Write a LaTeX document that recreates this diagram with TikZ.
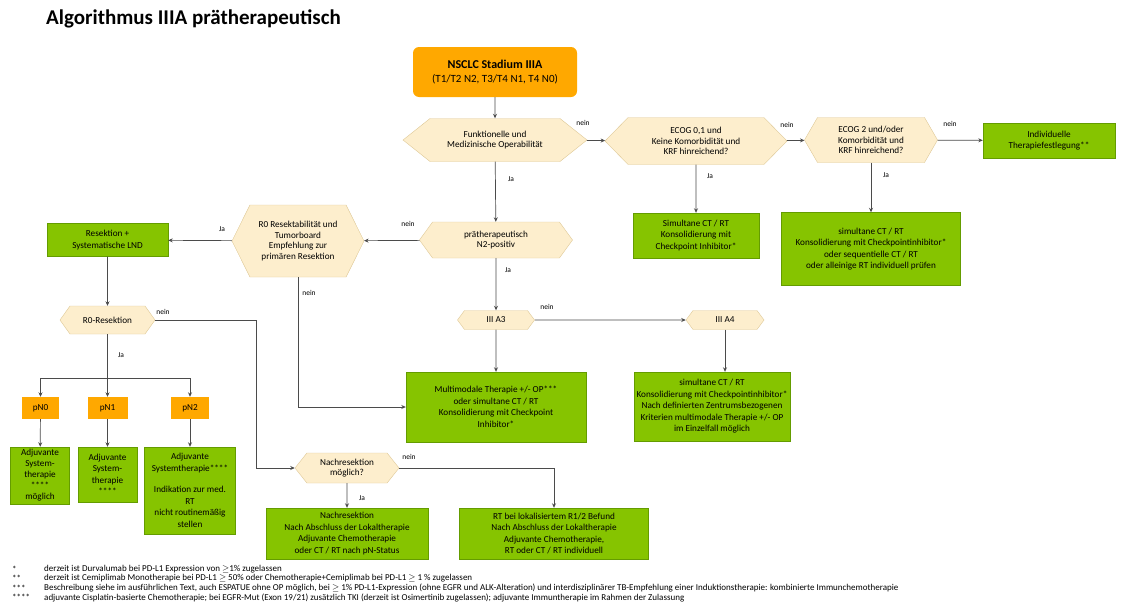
\documentclass[tikz,border=0pt]{standalone}
\usepackage{fontspec}
\setmainfont{Carlito}
\usetikzlibrary{arrows.meta,shapes.symbols}

\definecolor{startorange}{RGB}{255,168,0}
\definecolor{boxgreen}{RGB}{134,196,0}
\definecolor{boxgreenline}{RGB}{100,156,0}
\definecolor{hexfill}{RGB}{253,238,205}
\definecolor{hexline}{RGB}{222,200,150}
\definecolor{lineclr}{RGB}{75,75,75}

\tikzset{
  hexq/.style={signal, signal to=east and west, draw=hexline, fill=hexfill,
    inner sep=0pt, align=center, font=\fontsize{9.2}{10.8}\selectfont},
  greenbox/.style={rectangle, draw=boxgreenline, fill=boxgreen, inner sep=0pt,
    align=center, font=\fontsize{9.2}{11.5}\selectfont},
  orangebox/.style={rectangle, fill=startorange, inner sep=0pt, align=center,
    font=\fontsize{9.2}{11}\selectfont},
  conn/.style={draw=lineclr, line width=0.7pt},
  lbl/.style={font=\fontsize{7.5}{9}\selectfont, inner sep=0pt},
  fnote/.style={font=\fontsize{9}{10}\selectfont, inner sep=0pt, anchor=west}
}

\begin{document}
\begin{tikzpicture}[x=1pt,y=-1pt,>={Stealth[length=4.5pt,width=4pt]}]
  \useasboundingbox (0,0) rectangle (1122,608);

  % --- title -----------------------------------------------------
  \node[anchor=west, inner sep=0pt, font=\fontsize{21}{24}\selectfont\bfseries]
    (title) at (46,19) {Algorithmus IIIA prätherapeutisch};

  % --- top row ---------------------------------------------------
  \node[orangebox, rounded corners=6pt, minimum width=164pt, minimum height=50pt,
        font=\fontsize{11}{13.5}\selectfont] (start) at (495,72)
    {{\fontsize{12}{13.5}\selectfont\bfseries NSCLC Stadium IIIA}\\(T1/T2 N2, T3/T4 N1, T4 N0)};

  \node[hexq, minimum width=184pt, minimum height=43pt, signal pointer angle=77]
    (funk) at (495,140) {Funktionelle und\\Medizinische Operabilität};
  \node[hexq, minimum width=182pt, minimum height=47pt, signal pointer angle=91]
    (ecog01) at (696,141) {ECOG 0,1 und\\Keine Komorbidität und\\KRF hinreichend?};
  \node[hexq, minimum width=133pt, minimum height=45pt, signal pointer angle=120]
    (ecog2) at (871,140) {ECOG 2 und/oder\\Komorbidität und\\KRF hinreichend?};
  \node[greenbox, minimum width=132pt, minimum height=35pt]
    (indiv) at (1049,140.5) {Individuelle\\Therapiefestlegung**};

  \node[greenbox, minimum width=126pt, minimum height=45pt]
    (sim1) at (696,235.5) {Simultane CT / RT\\Konsolidierung mit\\Checkpoint Inhibitor*};
  \node[greenbox, minimum width=179pt, minimum height=73pt]
    (sim2) at (871,249) {simultane CT / RT\\Konsolidierung mit Checkpointinhibitor*\\oder sequentielle CT / RT\\oder alleinige RT individuell prüfen};

  % --- middle ----------------------------------------------------
  \node[hexq, minimum width=153pt, minimum height=36pt, signal pointer angle=108]
    (n2q) at (496,240) {prätherapeutisch\\N2-positiv};
  \node[hexq, minimum width=132pt, minimum height=72pt, signal pointer angle=127]
    (r0q) at (298,241) {R0 Resektabilität und\\Tumorboard\\Empfehlung zur\\primären Resektion};
  \node[greenbox, minimum width=121pt, minimum height=33pt]
    (reslnd) at (107.5,240) {Resektion +\\Systematische LND};

  \node[hexq, minimum width=77pt, minimum height=19pt, signal pointer angle=107]
    (a3) at (496,320) {III A3};
  \node[hexq, minimum width=78pt, minimum height=19pt, signal pointer angle=107]
    (a4) at (725,320) {III A4};

  \node[greenbox, minimum width=180pt, minimum height=70pt]
    (multi) at (496,407) {Multimodale Therapie +/- OP***\\oder simultane CT / RT\\Konsolidierung mit Checkpoint\\Inhibitor*};
  \node[greenbox, minimum width=156pt, minimum height=69pt]
    (a4box) at (712,406.5) {simultane CT / RT\\Konsolidierung mit Checkpointinhibitor*\\Nach definierten Zentrumsbezogenen\\Kriterien multimodale Therapie +/- OP\\im Einzelfall möglich};

  % --- left branch: after resection ------------------------------
  \node[hexq, minimum width=95pt, minimum height=28pt, signal pointer angle=109]
    (r0res) at (107.5,320) {R0-Resektion};

  \node[orangebox, minimum width=37pt, minimum height=22pt] (pn0) at (40.5,408) {pN0};
  \node[orangebox, minimum width=40pt, minimum height=22pt] (pn1) at (107.5,408) {pN1};
  \node[orangebox, minimum width=38pt, minimum height=22pt] (pn2) at (190,408) {pN2};

  \node[greenbox, minimum width=59pt, minimum height=57pt, font=\fontsize{9.2}{11}\selectfont]
    (adj0) at (40,475.5) {Adjuvante\\System-\\therapie\\****\\möglich};
  \node[greenbox, minimum width=59pt, minimum height=55pt]
    (adj1) at (107.5,474.5) {Adjuvante\\System-\\therapie\\****};
  \node[greenbox, minimum width=91pt, minimum height=87pt]
    (adj2) at (190,490.5) {Adjuvante\\Systemtherapie****\\[10pt]Indikation zur med.\\RT\\nicht routinemäßig\\stellen};

  \node[hexq, minimum width=104pt, minimum height=30pt, signal pointer angle=103]
    (nachq) at (347,468) {Nachresektion\\möglich?};
  \node[greenbox, minimum width=162pt, minimum height=51pt]
    (nachbox) at (347,533.5) {Nachresektion\\Nach Abschluss der Lokaltherapie\\Adjuvante Chemotherapie\\oder CT / RT nach pN-Status};
  \node[greenbox, minimum width=189pt, minimum height=51pt]
    (rtbox) at (554,533.5) {RT bei lokalisiertem R1/2 Befund\\Nach Abschluss der Lokaltherapie\\Adjuvante Chemotherapie,\\RT oder CT / RT individuell};

  % --- connectors ------------------------------------------------
  \coordinate (r0turn) at (256,320);
  \coordinate (pnsplit) at (107.5,378);

  \draw[conn,->] (start) -- (funk);
  \draw[conn,->] (funk) -- (ecog01);
  \draw[conn,->] (ecog01) -- (ecog2);
  \draw[conn,->] (ecog2) -- (indiv);
  \draw[conn,->] (ecog01) -- (sim1);
  \draw[conn,->] (ecog2.south) -- (ecog2.south |- sim2.north);
  \draw[conn,->] (funk) -- (n2q);
  \draw[conn,->] (n2q) -- (r0q);
  \draw[conn,->] (r0q) -- (reslnd);
  \draw[conn,->] (r0q.south) |- (multi.west);
  \draw[conn,->] (n2q) -- (a3);
  \draw[conn,->] (a3) -- (a4);
  \draw[conn,->] (a3) -- (multi);
  \draw[conn,->] (a4.south) -- (a4.south |- a4box.north);
  \draw[conn,->] (reslnd) -- (r0res);
  \draw[conn] (r0res) -- (pnsplit);
  \draw[conn] (pn0.north |- pnsplit) -- (pn2.north |- pnsplit);
  \foreach \n/\m in {pn0/adj0, pn1/adj1, pn2/adj2} {
    \draw[conn,->] (\n.north |- pnsplit) -- (\n);
    \draw[conn,->] (\n) -- (\m);
  }
  \draw[conn,->] (r0res.east) -- (r0turn) |- (nachq.west);
  \draw[conn,->] (nachq) -- (nachbox);
  \draw[conn,->] (nachq.east) -| (rtbox.north);

  % --- branch labels ---------------------------------------------
  \node[lbl] (l1) at (583,123) {nein};
  \node[lbl] (l2) at (787,125) {nein};
  \node[lbl] (l3) at (950,124) {nein};
  \node[lbl] (l4) at (710,176) {Ja};
  \node[lbl] (l5) at (886,175) {Ja};
  \node[lbl] (l6) at (511,179) {Ja};
  \node[lbl] (l7) at (408,224) {nein};
  \node[lbl] (l8) at (222,229) {Ja};
  \node[lbl] (l9) at (309,293) {nein};
  \node[lbl] (l10) at (163,312) {nein};
  \node[lbl] (l11) at (508,270) {Ja};
  \node[lbl] (l12) at (547,307) {nein};
  \node[lbl] (l13) at (121,355) {Ja};
  \node[lbl] (l14) at (409,457) {nein};
  \node[lbl] (l15) at (362,498) {Ja};

  % --- footnotes -------------------------------------------------
  \foreach \i/\y/\m/\t in {
    1/569/{*}/{derzeit ist Durvalumab bei PD-L1 Expression von $\geq$1\% zugelassen},
    2/578.5/{**}/{derzeit ist Cemiplimab Monotherapie bei PD-L1 $\geq$ 50\% oder Chemotherapie+Cemiplimab bei PD-L1 $\geq$ 1 \% zugelassen},
    3/588/{***}/{Beschreibung siehe im ausführlichen Text, auch ESPATUE ohne OP möglich, bei $\geq$ 1\% PD-L1-Expression (ohne EGFR und ALK-Alteration) und interdisziplinärer TB-Empfehlung einer Induktionstherapie: kombinierte Immunchemotherapie},
    4/597.5/{****}/{adjuvante Cisplatin-basierte Chemotherapie; bei EGFR-Mut (Exon 19/21) zusätzlich TKI (derzeit ist Osimertinib zugelassen); adjuvante Immuntherapie im Rahmen der Zulassung}} {
    \node[fnote] (fm\i) at (12,\y) {\m};
    \node[fnote] (fn\i) at (44,\y) {\t};
  }

\end{tikzpicture}
\end{document}
